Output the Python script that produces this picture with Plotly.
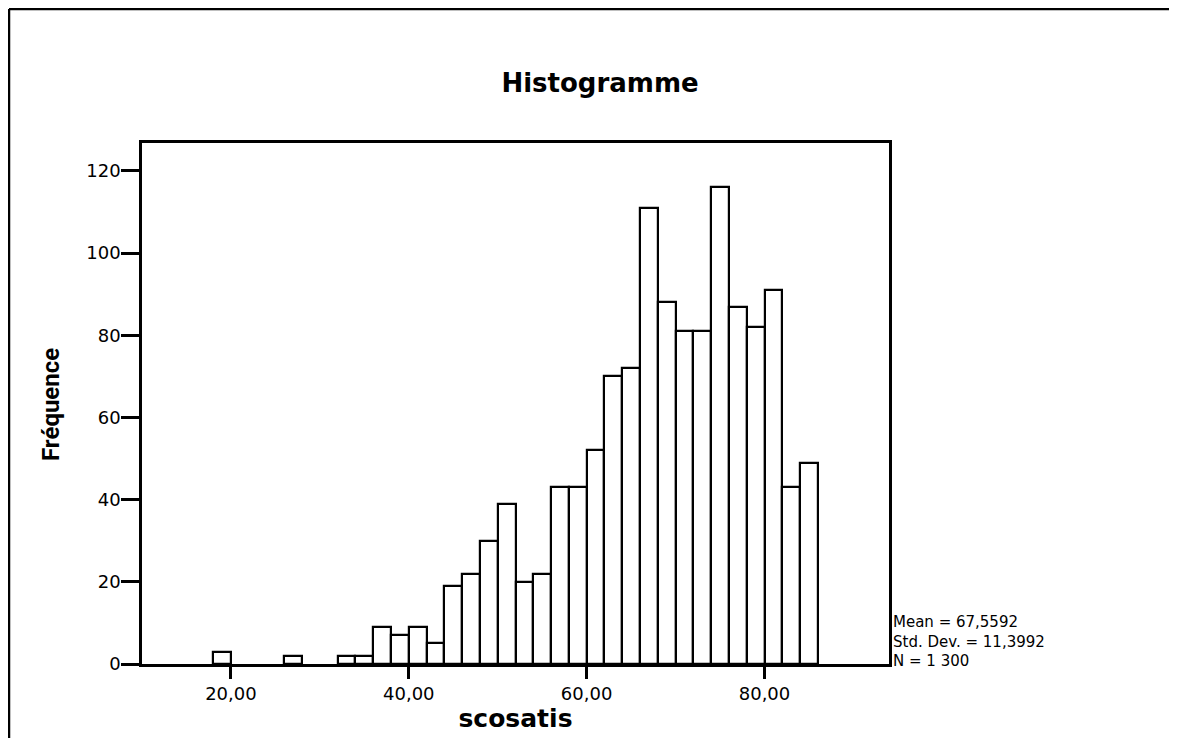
import plotly.graph_objects as go

# histogram bins (width 2)
bin_start = [18, 26, 32, 34, 36, 38, 40, 42, 44, 46, 48, 50, 52, 54, 56,
             58, 60, 62, 64, 66, 68, 70, 72, 74, 76, 78, 80, 82, 84]
counts = [3, 2, 2, 2, 9, 7, 9, 5, 19, 22, 30, 39, 20, 22, 43,
          43, 52, 70, 72, 111, 88, 81, 81, 116, 87, 82, 91, 43, 49]
bin_width = 2

x_tickvals = [20, 40, 60, 80]
x_ticktext = ["20,00", "40,00", "60,00", "80,00"]
y_tickvals = [0, 20, 40, 60, 80, 100, 120]

stat_lines = ["Mean = 67,5592", "Std. Dev. = 11,3992", "N = 1 300"]

# page body has an 8px margin, so the figure is shrunk and shifted by it
OFF = 8
W, H = 1177 - OFF, 738 - OFF
L, T = 142 - OFF, 143 - OFF
pw, ph = 747, 521
R, B = W - L - pw, H - T - ph


def px_x(p):
    # page pixel -> paper x
    return (p - OFF - L) / pw


def px_y(p):
    # page pixel -> paper y
    return (T + ph - (p - OFF)) / ph


fig = go.Figure(go.Bar(
    x=bin_start, y=counts, width=bin_width, offset=0,
    marker=dict(color="white", line=dict(color="black", width=2.2)),
    hoverinfo="x+y",
))

fig.update_layout(
    width=W, height=H,
    margin=dict(l=L, r=R, t=T, b=B),
    paper_bgcolor="white", plot_bgcolor="white",
    showlegend=False,
    bargap=0,
    title=dict(text="<b>Histogramme</b>", x=(600 - OFF) / W, xref="container", xanchor="center",
               y=1 - (83 - OFF) / H, yref="container", yanchor="middle",
               font=dict(family="DejaVu Sans", size=26, color="black")),
    font=dict(family="DejaVu Sans", color="black"),
)

fig.update_xaxes(
    range=[10, 94], showgrid=False, zeroline=False,
    showline=True, linecolor="black", linewidth=2.5, mirror=True,
    ticks="outside", ticklen=12, tickwidth=2.5, tickcolor="black",
    tickvals=x_tickvals, ticktext=x_ticktext,
    tickfont=dict(family="DejaVu Sans", size=18, color="black"),
    title=dict(text="<b>scosatis</b>", standoff=3,
               font=dict(family="DejaVu Sans", size=25, color="black")),
)
fig.update_yaxes(
    range=[0, 126.8], showgrid=False, zeroline=False,
    showline=True, linecolor="black", linewidth=2.5, mirror=True,
    ticks="outside", ticklen=18, tickwidth=2.5, tickcolor="black",
    tickvals=y_tickvals, ticklabelstandoff=-3,
    tickfont=dict(family="DejaVu Sans", size=18, color="black"),
)

fig.add_annotation(
    text="<b>Fréquence</b>", textangle=-90,
    x=px_x(51), y=px_y(405), xref="paper", yref="paper",
    xanchor="center", yanchor="middle", showarrow=False,
    font=dict(family="Roboto", size=24, color="black"),
)

fig.add_annotation(
    text="<br>".join(stat_lines),
    x=px_x(891), y=px_y(641.5), xref="paper", yref="paper",
    xanchor="left", yanchor="middle", align="left", showarrow=False,
    font=dict(family="DejaVu Sans", size=15, color="black"),
)

# outer frame (left + top edges)
fig.add_shape(type="line", xref="paper", yref="paper",
              x0=px_x(9), x1=px_x(9), y0=px_y(745), y1=px_y(9),
              line=dict(color="black", width=2.5))
fig.add_shape(type="line", xref="paper", yref="paper",
              x0=px_x(9), x1=px_x(1173), y0=px_y(9), y1=px_y(9),
              line=dict(color="black", width=2.5))

fig.write_html("out.html")
